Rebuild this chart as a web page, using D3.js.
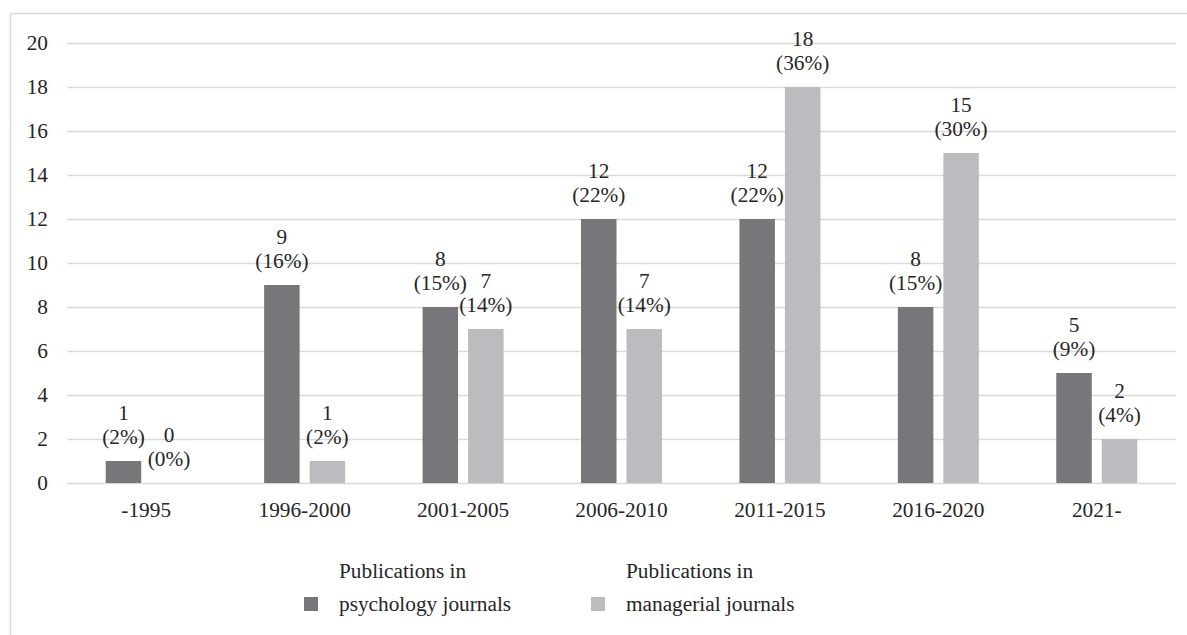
<!DOCTYPE html>
<html>
<head>
<meta charset="utf-8">
<script src="https://cdn.jsdelivr.net/npm/d3@7"></script>
<style>
  html, body { margin: 0; padding: 0; background: #ffffff; }
</style>
</head>
<body>
<svg id="chart" width="1187" height="635"></svg>
<script>
// Publication periods
const periods = ["-1995", "1996-2000", "2001-2005", "2006-2010", "2011-2015", "2016-2020", "2021-"];
// Counts per period
const psychology = [1, 9, 8, 12, 12, 8, 5];
const managerial = [0, 1, 7, 7, 18, 15, 2];
// Share of each journal type's total
const psychologyPct = ["2%", "16%", "15%", "22%", "22%", "15%", "9%"];
const managerialPct = ["0%", "2%", "14%", "14%", "36%", "30%", "4%"];
const yTicks = [0, 2, 4, 6, 8, 10, 12, 14, 16, 18, 20];
const seriesNames = ["psychology", "managerial"];
const legendLines = [["Publications in", "psychology journals"], ["Publications in", "managerial journals"]];
const colors = { psychology: "#76777b", managerial: "#bbbcbf" };

const FONT = "'Liberation Serif'";
const FONT_SIZE = "21.3px";
const TEXT = "#262626";

const svg = d3.select("#chart");
const W = 1187, H = 635;

// Outer frame
svg.append("rect")
  .attr("x", 10.5).attr("y", 13.5)
  .attr("width", W + 20).attr("height", H + 20)
  .attr("fill", "none").attr("stroke", "#d9d9d9").attr("stroke-width", 1.5);

const plot = { left: 67, right: 1176, top: 43, bottom: 483 };

const x = d3.scaleBand().domain(periods).range([plot.left, plot.right]);
const y = d3.scaleLinear().domain([0, 20]).range([plot.bottom, plot.top]);

const barW = 35.5, gap = 10;

// Gridlines
svg.append("g")
  .selectAll("line").data(yTicks).join("line")
  .attr("x1", plot.left).attr("x2", plot.right)
  .attr("y1", d => Math.round(y(d)) + 0.5).attr("y2", d => Math.round(y(d)) + 0.5)
  .attr("stroke", "#d9d9d9").attr("stroke-width", 1.5);

function styleText(sel) {
  sel.style("font-family", FONT).style("font-size", FONT_SIZE).style("fill", TEXT);
}

// Y axis labels
const yAxis = d3.axisLeft(y).tickValues(yTicks).tickSize(0).tickPadding(19);
const gy = svg.append("g").attr("transform", `translate(${plot.left},0)`).call(yAxis);
gy.attr("font-family", null).attr("font-size", null);
gy.select(".domain").remove();
gy.selectAll("text").call(styleText);

// X axis labels
const xAxis = d3.axisBottom(x).tickSize(0).tickPadding(19);
const gx = svg.append("g").attr("transform", `translate(0,${plot.bottom})`).call(xAxis);
gx.attr("font-family", null).attr("font-size", null);
gx.select(".domain").remove();
gx.selectAll("text").call(styleText);

// Bars and value labels
const rows = periods.map((p, i) => ({
  period: p,
  items: [
    { key: "psychology", value: psychology[i], pct: psychologyPct[i] },
    { key: "managerial", value: managerial[i], pct: managerialPct[i] }
  ]
}));

const groupW = barW * 2 + gap;
const groups = svg.append("g").selectAll("g").data(rows).join("g")
  .attr("transform", d => `translate(${x(d.period) + x.bandwidth() / 2 - groupW / 2},0)`);

const offs = { psychology: 0, managerial: barW + gap };

groups.selectAll("rect").data(d => d.items).join("rect")
  .attr("x", d => offs[d.key])
  .attr("width", barW)
  .attr("y", d => y(d.value))
  .attr("height", d => y(0) - y(d.value))
  .attr("fill", d => colors[d.key]);

const lineGap = 24.5;
const lbl = groups.selectAll("text.val").data(d => d.items).join("text")
  .attr("class", "val")
  .attr("text-anchor", "middle")
  .attr("x", d => offs[d.key] + barW / 2)
  .attr("y", d => y(d.value) - 17)
  .call(styleText);
lbl.append("tspan").attr("x", d => offs[d.key] + barW / 2).attr("dy", -lineGap).text(d => d.value);
lbl.append("tspan").attr("x", d => offs[d.key] + barW / 2).attr("dy", lineGap).text(d => `(${d.pct})`);

// Legend
const legendX = [304, 591];
const legend = svg.append("g").selectAll("g").data(seriesNames).join("g")
  .attr("transform", (d, i) => `translate(${legendX[i]},0)`);
legend.append("rect")
  .attr("x", 0).attr("y", 597).attr("width", 14).attr("height", 14)
  .attr("fill", d => colors[d]);
legend.append("text")
  .attr("x", 35).attr("y", 578)
  .call(styleText)
  .text((d, i) => legendLines[i][0]);
legend.append("text")
  .attr("x", 35).attr("y", 611)
  .call(styleText)
  .text((d, i) => legendLines[i][1]);
</script>
</body>
</html>
